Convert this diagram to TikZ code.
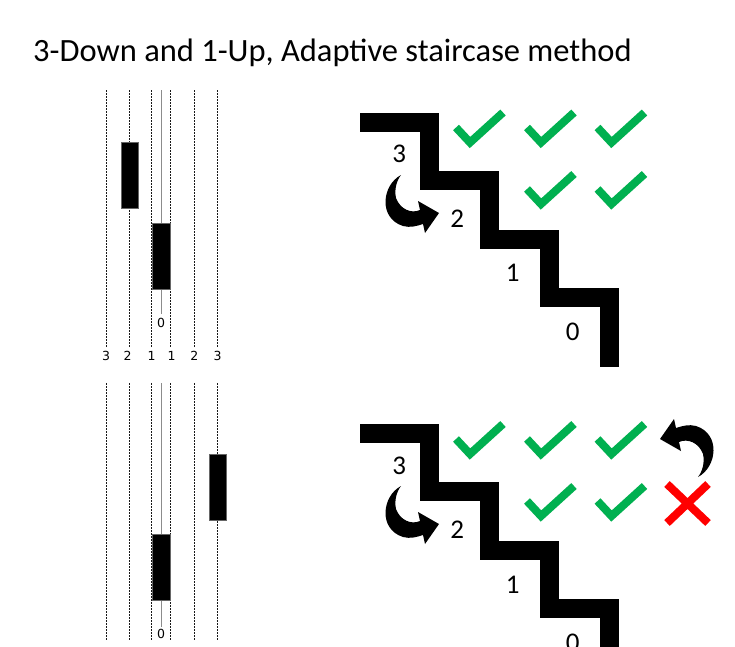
\documentclass[tikz,border=0pt]{standalone}
\usepackage{fontspec}
\setmainfont{Carlito}
\newfontfamily\dv{DejaVu Sans}
\definecolor{okgreen}{HTML}{00B050}
\definecolor{nored}{HTML}{FF0000}
\tikzset{
  guide/.style={line width=0.9pt, black!90, dash pattern=on 1.8pt off 1.2pt},
  guidec/.style={line width=0.5pt, black!45},
  bar/.style={fill=black, draw=black!60, line width=0.4pt},
  stair/.style={line width=19pt, line join=miter, line cap=butt},
  tick/.style={line width=8pt, okgreen, line cap=butt, line join=miter},
  cross/.style={line width=8pt, nored, line cap=butt},
  lvl/.style={font=\fontsize{27}{27}\selectfont, inner sep=0pt},
  axl/.style={font=\dv\fontsize{12.5}{12.5}\selectfont, inner sep=0pt},
}
\newcommand\curvyarrow{%
  \fill (0,0) .. controls (-19,10) and (-23,43) .. (2,51)
    .. controls (9,53) and (16,51) .. (22,49) -- (24,58) -- (38,38) -- (17,26) -- (19,35)
    .. controls (10,39) and (-1,34) .. (-5,23) .. controls (-7,14) and (-4,5) .. (0,0) -- cycle;}
\newcommand\checkmk[2]{\draw[tick] (#1-14,#2-15) -- (#1,#2) -- (#1+33,#2-30);}
\begin{document}
\begin{tikzpicture}[x=1pt,y=-1pt]
\useasboundingbox (0,0) rectangle (735,646);
\clip (0,0) rectangle (735,646);
\fill[white] (0,0) rectangle (735,646);
% title
\node[anchor=base west, inner sep=0pt, font=\fontsize{32.5}{33}\selectfont] (title) at (33,61) {3-Down and 1-Up, Adaptive staircase method};

% ---------- top left panel ----------
\foreach \x in {106,129.3,151.7,170,194.3,217} \draw[guide] (\x,90) -- (\x,347);
\draw[guidec] (161,90) -- (161,314);
\node[bar, minimum width=17.6pt, minimum height=66pt, inner sep=0pt] (r1) at (129.5,175.3) {};
\node[bar, minimum width=18pt, minimum height=66pt, inner sep=0pt] (r2) at (161.3,256.3) {};
\node[axl] (z0) at (161,322.7) {0};
\node[axl] (a3) at (106,356) {3};
\node[axl] (a2) at (127.7,356) {2};
\node[axl] (a1) at (151.7,356) {1};
\node[axl] (b1) at (171.7,356) {1};
\node[axl] (b2) at (194.3,356) {2};
\node[axl] (b3) at (217.7,356) {3};

% ---------- bottom left panel ----------
\foreach \x in {106,129.3,151.7,170,194.3,217} \draw[guide] (\x,383) -- (\x,640);
\draw[guidec] (161,383) -- (161,534);
\draw[guidec] (161,600) -- (161,627);
\node[bar, minimum width=17pt, minimum height=66pt, inner sep=0pt] (r3) at (217.8,487.3) {};
\node[bar, minimum width=18pt, minimum height=66pt, inner sep=0pt] (r4) at (161.3,567.3) {};
\node[axl] (z1) at (161,634) {0};

% ---------- top staircase ----------
\draw[stair] (360,122) -- (429.5,122) -- (429.5,180) -- (489,180) -- (489,239) -- (549,239) -- (549,297.5) -- (609,297.5) -- (609,367);
\node[lvl] (s3) at (399.3,154) {3};
\node[lvl] (s2) at (457.3,218.3) {2};
\node[lvl] (s1) at (512.7,273.3) {1};
\node[lvl] (s0) at (572.7,331.7) {0};
\begin{scope}[shift={(401,175)}] \curvyarrow \end{scope}
\checkmk{470}{142.5}\checkmk{541}{142.5}\checkmk{611.5}{142.5}
\checkmk{541}{204}\checkmk{611.5}{204}

% ---------- bottom staircase ----------
\draw[stair] (360,433) -- (429.5,433) -- (429.5,491) -- (489,491) -- (489,550) -- (549,550) -- (549,608.5) -- (609,608.5) -- (609,660);
\node[lvl] (t3) at (399.3,466) {3};
\node[lvl] (t2) at (457.3,529.5) {2};
\node[lvl] (t1) at (512.7,584.5) {1};
\node[lvl] (t0) at (572.7,643) {0};
\begin{scope}[shift={(401,486)}] \curvyarrow \end{scope}
\begin{scope}[shift={(698,477)}, rotate=180] \curvyarrow \end{scope}
\checkmk{470}{454}\checkmk{541}{454}\checkmk{611.5}{454}
\checkmk{541}{516}\checkmk{611.5}{516}
\draw[cross] (667,484) -- (708,523);
\draw[cross] (667,523) -- (708,484);
\end{tikzpicture}
\end{document}
